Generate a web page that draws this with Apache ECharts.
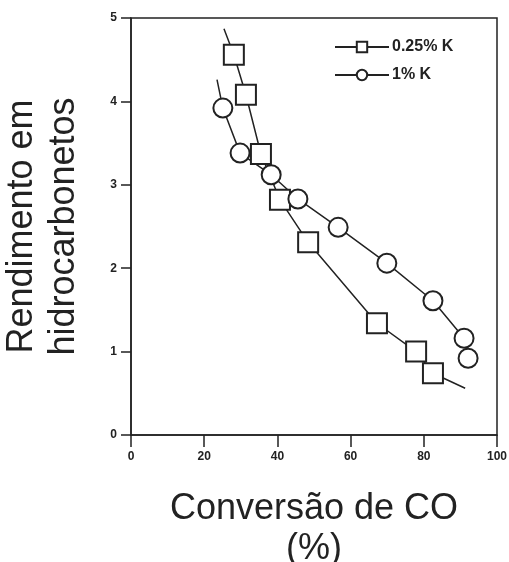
<!DOCTYPE html>
<html>
<head>
<meta charset="utf-8">
<script src="https://cdn.jsdelivr.net/npm/echarts@6/dist/echarts.min.js"></script>
<style>
  html, body { margin: 0; padding: 0; background: #fff; }
  #chart { width: 509px; height: 562px; }
</style>
</head>
<body>
<div id="chart"></div>
<script>
// ---- data ----
var seriesNames = ['0.25% K', '1% K'];
var squareX = [28.1, 31.4, 35.5, 40.7, 48.4, 67.2, 77.9, 82.5];
var squareY = [4.56, 4.08, 3.37, 2.82, 2.31, 1.34, 1.00, 0.74];
var squareLineStart = [25.4, 4.87];
var squareLineEnd = [91.3, 0.56];
var circleX = [25.1, 29.8, 38.3, 45.6, 56.6, 69.9, 82.5, 91.0, 92.1];
var circleY = [3.92, 3.38, 3.12, 2.83, 2.49, 2.06, 1.61, 1.16, 0.92];
var circleLineStart = [23.5, 4.26];
var xTicks = [0, 20, 40, 60, 80, 100];
var yTicks = [0, 1, 2, 3, 4, 5];
var xTitle = 'Conversão de CO\n(%)';
var yTitle = 'Rendimento em\nhidrocarbonetos';

function buildData(xs, ys, start, end) {
  var d = [];
  if (start) d.push({ value: start, symbol: 'none' });
  for (var i = 0; i < xs.length; i++) d.push({ value: [xs[i], ys[i]] });
  if (end) d.push({ value: end, symbol: 'none' });
  return d;
}

var ink = '#222';
var chart = echarts.init(document.getElementById('chart'), null, { renderer: 'canvas' });
chart.setOption({
  backgroundColor: '#fff',
  animation: false,
  textStyle: { fontFamily: 'Liberation Sans, Arial, sans-serif' },
  grid: {
    left: 131, right: 12, top: 18, bottom: 127, show: true,
    borderColor: ink, borderWidth: 1.5,
    containLabel: false, outerBoundsMode: 'none'
  },
  legend: {
    orient: 'vertical', left: 329, top: 34, itemWidth: 54, itemHeight: 13, itemGap: 12,
    textStyle: { fontSize: 16, fontWeight: 'bold', color: ink, padding: [0, 0, 0, -2] },
    data: seriesNames
  },
  xAxis: {
    type: 'value', min: xTicks[0], max: xTicks[xTicks.length - 1], interval: 20,
    name: xTitle, nameLocation: 'middle', nameGap: 54,
    nameTextStyle: { fontSize: 36, color: ink, lineHeight: 40 },
    axisLine: { lineStyle: { color: ink, width: 1.5 } },
    axisTick: { inside: false, length: 12, lineStyle: { color: ink, width: 1.5 } },
    axisLabel: { color: ink, fontSize: 12, fontWeight: 'bold', margin: 16 },
    splitLine: { show: false }
  },
  yAxis: {
    type: 'value', min: yTicks[0], max: yTicks[yTicks.length - 1], interval: 1,
    name: yTitle, nameLocation: 'middle', nameGap: 46, nameRotate: 90,
    nameTextStyle: { fontSize: 36, color: ink, lineHeight: 42 },
    axisLine: { lineStyle: { color: ink, width: 1.5 } },
    axisTick: { length: 10, lineStyle: { color: ink, width: 1.5 } },
    axisLabel: { color: ink, fontSize: 12, fontWeight: 'bold', margin: 14 },
    splitLine: { show: false }
  },
  series: [
    {
      name: seriesNames[0], type: 'line',
      data: buildData(squareX, squareY, squareLineStart, squareLineEnd),
      symbol: 'rect', symbolSize: 20,
      lineStyle: { color: ink, width: 1.5 },
      itemStyle: { color: '#fff', borderColor: ink, borderWidth: 2 }
    },
    {
      name: seriesNames[1], type: 'line',
      data: buildData(circleX, circleY, circleLineStart, null),
      symbol: 'circle', symbolSize: 19,
      lineStyle: { color: ink, width: 1.5 },
      itemStyle: { color: '#fff', borderColor: ink, borderWidth: 2 }
    }
  ]
});
</script>
</body>
</html>
